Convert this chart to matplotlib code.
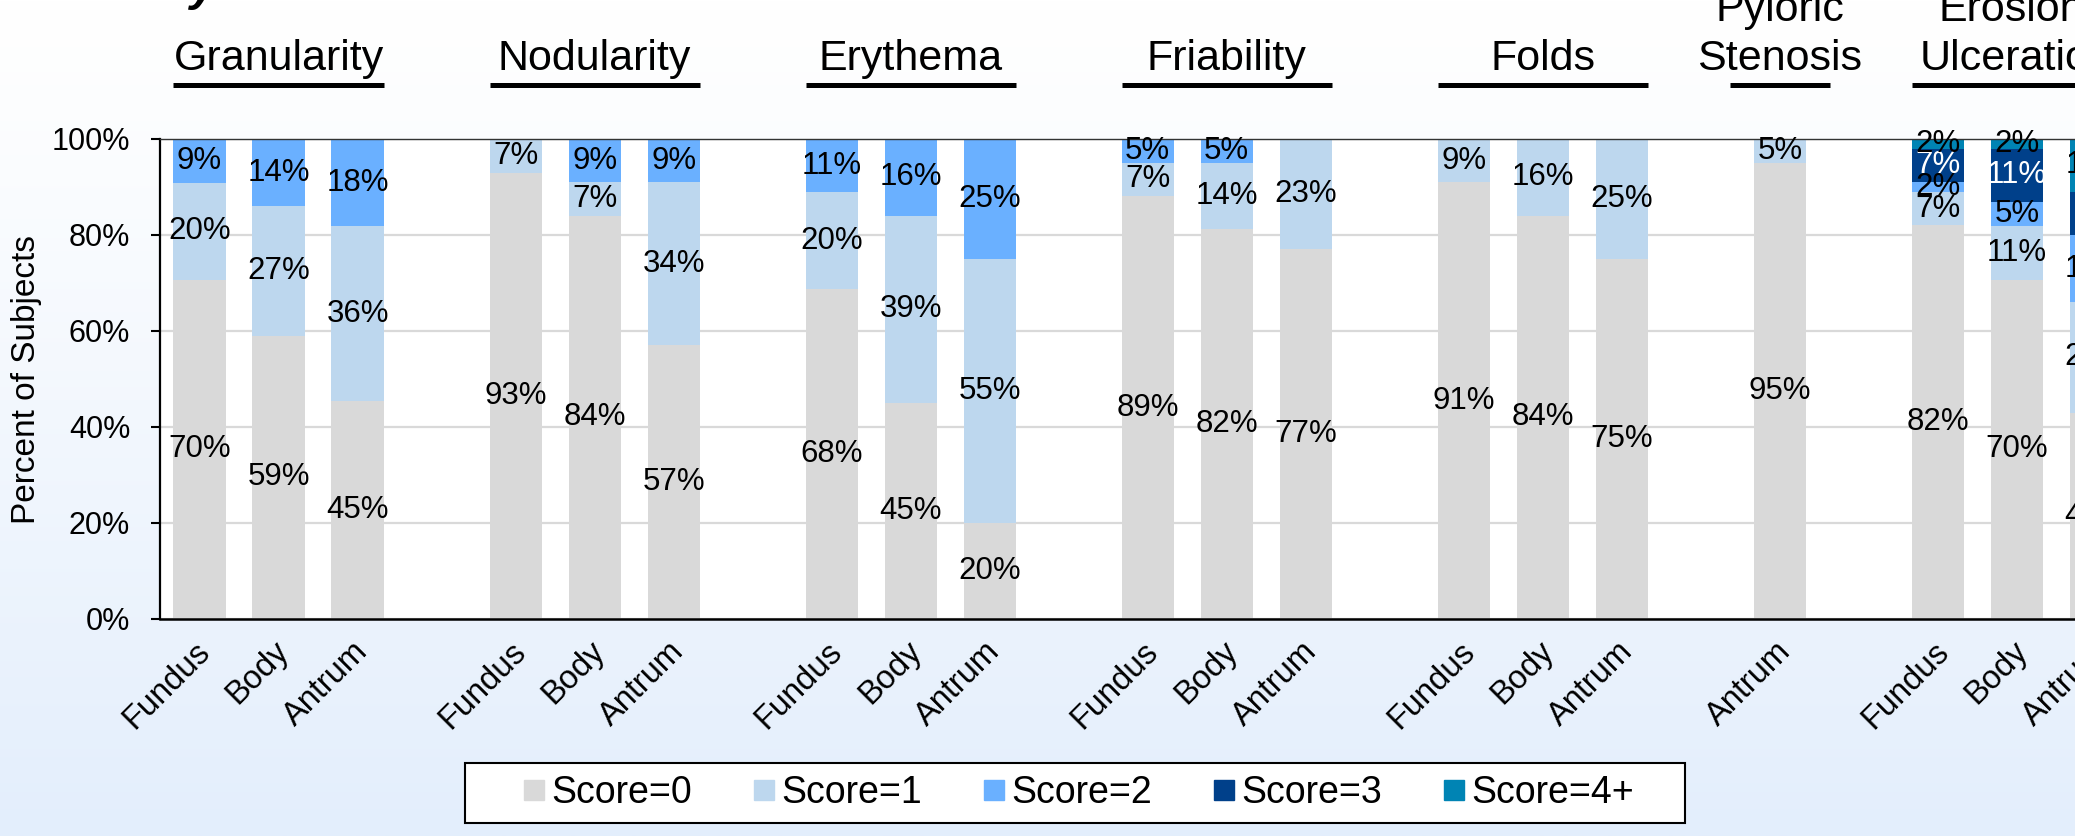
import numpy as np
import matplotlib
matplotlib.use("Agg")
import matplotlib.pyplot as plt
from matplotlib.lines import Line2D
from matplotlib.patches import Rectangle
from matplotlib.transforms import blended_transform_factory, ScaledTranslation

plt.rcParams['font.family'] = ['Liberation Sans', 'DejaVu Sans']

# Endoscopic findings and the gastric regions scored for each
findings = ["Granularity", "Nodularity", "Erythema", "Friability", "Folds",
            "Pyloric\nStenosis", "Erosion/\nUlceration"]
regions = [["Fundus", "Body", "Antrum"]] * 5 + [["Antrum"], ["Fundus", "Body", "Antrum"]]

# Percent of subjects per score, one value per bar (in the order of `regions`)
score_names = ["Score=0", "Score=1", "Score=2", "Score=3", "Score=4+"]
score0 = [70, 59, 45, 93, 84, 57, 68, 45, 20, 89, 82, 77, 91, 84, 75, 95, 82, 70, 43]
score1 = [20, 27, 36, 7, 7, 34, 20, 39, 55, 7, 14, 23, 9, 16, 25, 5, 7, 11, 23]
score2 = [9, 14, 18, 0, 9, 9, 11, 16, 25, 5, 5, 0, 0, 0, 0, 0, 2, 5, 14]
score3 = [0, 0, 0, 0, 0, 0, 0, 0, 0, 0, 0, 0, 0, 0, 0, 0, 7, 11, 9]
score4 = [0, 0, 0, 0, 0, 0, 0, 0, 0, 0, 0, 0, 0, 0, 0, 0, 2, 2, 11]
ytick_labels = ["0%", "20%", "40%", "60%", "80%", "100%"]

colors = ["#D9D9D9", "#BDD7EE", "#6AB0FF", "#00408A", "#0084B4"]
label_colors = ["black", "black", "black", "white", "black"]

W, H = 2075, 836
fig = plt.figure(figsize=(W / 100, H / 100), dpi=100)

# soft vertical gradient behind everything
bg = fig.add_axes([0, 0, 1, 1], zorder=-5)
t = np.linspace(0, 1, 400)[:, None]
top = np.array([1.0, 1.0, 1.0])
bot = np.array([227, 238, 252]) / 255
grad = top + (bot - top) * (t ** 1.15)[..., None]
bg.imshow(np.repeat(grad, 2, axis=1), aspect='auto', extent=[0, 1, 0, 1])
bg.axis('off')

ax_left, ax_right = 160, 2135.5
ax_top, ax_bottom = 139, 619
ax = fig.add_axes([ax_left / W, 1 - ax_bottom / H,
                   (ax_right - ax_left) / W, (ax_bottom - ax_top) / H])
ax.set_facecolor('white')

# bar slots: one empty slot between findings
pos, group_slots, slot = [], [], 0
for regs in regions:
    idx = list(range(slot, slot + len(regs)))
    pos += idx
    group_slots.append(idx)
    slot += len(regs) + 1
pos = np.array(pos)
tick_names = [r for regs in regions for r in regs]

data = np.array([score0, score1, score2, score3, score4], dtype=float)
share = data / data.sum(axis=0) * 100  # 100% stacked

bottom = np.zeros(len(pos))
for k in range(len(score_names)):
    bars = ax.bar(pos, share[k], width=0.66, bottom=bottom, color=colors[k],
                  zorder=2, label=score_names[k])
    labels = [f"{v:.0f}%" if v > 0 else "" for v in data[k]]
    ax.bar_label(bars, labels=labels, label_type='center', fontsize=22.5,
                 color=label_colors[k], zorder=3)
    bottom += share[k]

ax.set_xlim(-0.5, slot - 1 - 0.5)
ax.set_ylim(0, 100)
ax.set_yticks(range(0, 101, 20))
ax.set_yticklabels(ytick_labels)
ax.set_xticks(pos)
ax.set_xticklabels(tick_names, rotation=45, ha='right', va='top',
                   rotation_mode='anchor')
ax.tick_params(axis='y', length=6.5, width=1.5, pad=15, labelsize=22,
               direction='out', colors='black')
ax.tick_params(axis='x', length=0, pad=12, labelsize=23.5)
shift = ScaledTranslation(-5 / 100, 0, fig.dpi_scale_trans)
for lab in ax.get_xticklabels():
    lab.set_transform(lab.get_transform() + shift)

ax.yaxis.grid(True, color='#D9D9D9', lw=1.6, zorder=0)
ax.set_axisbelow(True)
ax.spines['right'].set_visible(False)
ax.spines['left'].set_linewidth(1.6)
ax.spines['bottom'].set_linewidth(1.8)
ax.spines['top'].set_linewidth(1.0)
ax.spines['top'].set_color('#333333')

ax.set_ylabel("Percent of Subjects", fontsize=24)
ax.yaxis.label.set_va('center')
ax.yaxis.set_label_coords((27 - ax_left) / (ax_right - ax_left), 0.5)

# finding titles with underlines spanning their bars
tr = blended_transform_factory(ax.transData, fig.transFigure)
uy = 1 - 85 / H
ty = 1 - 79 / H
for name, idx in zip(findings, group_slots):
    pad = 0.33 if len(idx) > 1 else 0.63
    x0, x1 = idx[0] - pad, idx[-1] + pad
    ax.add_line(Line2D([x0, x1], [uy, uy], transform=tr, color='black',
                       lw=3.6, solid_capstyle='butt', clip_on=False))
    ax.text((x0 + x1) / 2, ty, name, transform=tr, ha='center', va='bottom',
            fontsize=31, linespacing=1.3, clip_on=False)

# slide heading running above the top edge
fig.text(190 / W, 1.0, "y", fontsize=34, fontweight='bold', style='italic',
         va='baseline', ha='left')

# legend in a framed box below the chart
fig.patches.append(Rectangle((465 / W, 1 - 823 / H), 1220 / W, 60 / H,
                             transform=fig.transFigure, facecolor='white',
                             edgecolor='black', lw=1.5, zorder=1))
handles = [Line2D([], [], marker='s', linestyle='none', markersize=13.7,
                  markerfacecolor=c, markeredgecolor=c) for c in colors]
leg = fig.legend(handles, score_names, loc='center', ncol=5,
                 bbox_to_anchor=(1079 / W, 1 - 793 / H), frameon=False,
                 fontsize=27, handlelength=0.5, handletextpad=0.21,
                 columnspacing=1.67, borderpad=0)
leg.set_zorder(2)

fig.savefig("out.png", dpi=100)
